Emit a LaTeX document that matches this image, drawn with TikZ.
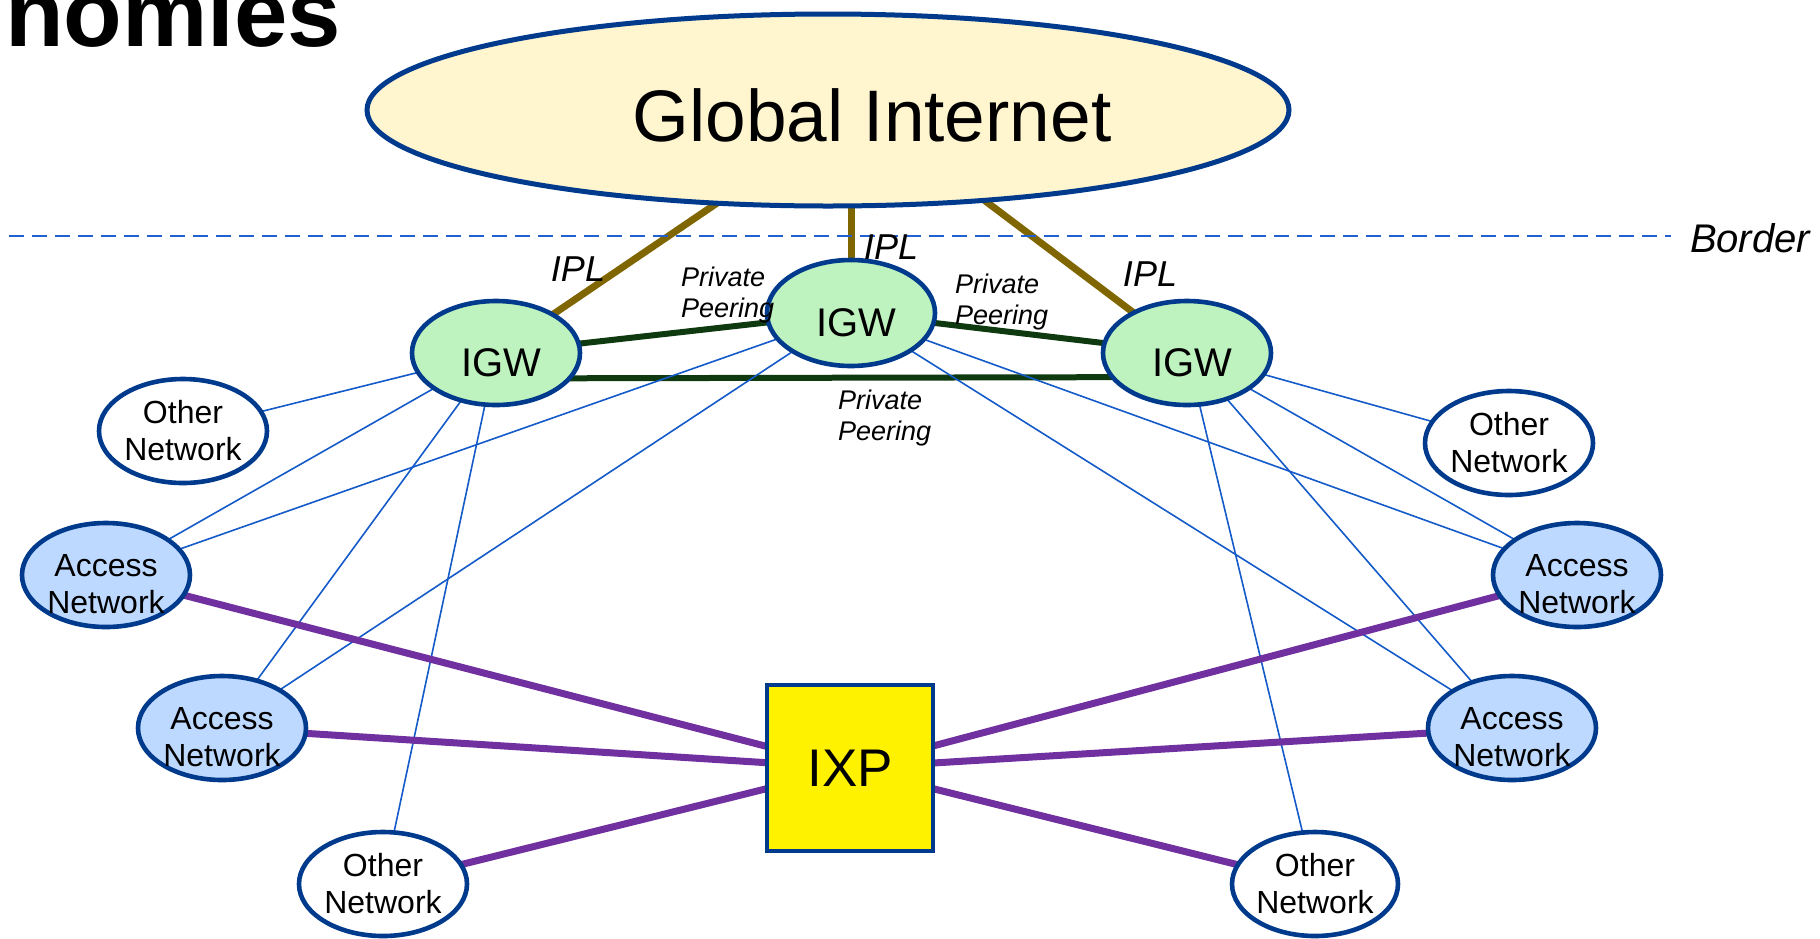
\documentclass[tikz,border=0pt]{standalone}
\usepackage{fontspec}
\setmainfont{Liberation Sans}
\usetikzlibrary{shapes.geometric,backgrounds}
\definecolor{nodeblue}{RGB}{0,58,140}
\definecolor{gifill}{RGB}{255,245,207}
\definecolor{igwfill}{RGB}{190,242,190}
\definecolor{anfill}{RGB}{189,217,255}
\definecolor{iplcol}{RGB}{128,102,0}
\definecolor{ppcol}{RGB}{15,58,15}
\definecolor{thinblue}{RGB}{20,90,200}
\definecolor{ixpcol}{RGB}{112,48,160}
\definecolor{bordercol}{RGB}{32,96,208}
\begin{document}
\begin{tikzpicture}[x=0.5pt,y=-0.5pt,
  every node/.style={inner sep=0pt,outer sep=0pt},
  netnode/.style={ellipse,draw=nodeblue,line width=2.3pt,minimum width=84pt,minimum height=52pt,align=center,font=\fontsize{16pt}{18.5pt}\selectfont},
  netlabel/.style={align=center,font=\fontsize{16pt}{18.5pt}\selectfont},
  othernet/.style={netnode,fill=white},
  accessnet/.style={netnode,fill=anfill,label={[netlabel,yshift=-4.5pt]center:{Access\\Network}}},
  igwnode/.style={netnode,fill=igwfill,label={[font=\fontsize{20pt}{24pt}\selectfont,xshift=2.5pt,yshift=-4.7pt]center:IGW}},
  ipl/.style={draw=iplcol,line width=3.5pt},
  pp/.style={draw=ppcol,line width=3pt},
  thin/.style={draw=thinblue,line width=0.8pt},
  ixpline/.style={draw=ixpcol,line width=3.5pt},
  ppl/.style={align=left,anchor=west,font=\fontsize{13.5pt}{15.5pt}\selectfont\itshape},
  ipllabel/.style={font=\fontsize{18pt}{20pt}\selectfont\itshape}
]
\useasboundingbox (0,0) rectangle (1820,938);
\clip (0,0) rectangle (1820,938);

\node[anchor=base west,font=\fontsize{48pt}{50pt}\selectfont\bfseries] (title) at (5,46) {nomies};

\node[ellipse,draw=nodeblue,line width=2.5pt,fill=gifill,minimum width=461pt,minimum height=96pt,
  label={[font=\fontsize{36.5pt}{40pt}\selectfont,xshift=22pt,yshift=-2.5pt]center:Global Internet}] (gi) at (828,110) {};

\coordinate (bl) at (9,236);
\coordinate (br) at (1671,236);
\draw[bordercol,line width=1.1pt,dash pattern=on 7.5pt off 4pt] (bl) -- (br);
\node[anchor=west,font=\fontsize{20pt}{24pt}\selectfont\itshape] (border) at (1690,238) {Border};

\node[igwnode] (igwL) at (496,353) {};
\node[igwnode,minimum height=53pt] (igwC) at (851,313) {};
\node[igwnode] (igwR) at (1187,353) {};

\node[othernet] (onUL) at (183,431) {Other\\Network};
\node[othernet] (onUR) at (1509,443) {Other\\Network};
\node[othernet] (onBL) at (383,884) {Other\\Network};
\node[othernet,minimum width=82pt] (onBR) at (1315,884) {Other\\Network};

\node[accessnet] (anL1) at (106,575) {};
\node[accessnet] (anL2) at (222,728) {};
\node[accessnet] (anR1) at (1577,575) {};
\node[accessnet] (anR2) at (1512,728) {};

\node[rectangle,draw=nodeblue,line width=2.3pt,fill=yellow,minimum width=83pt,minimum height=83pt,font=\fontsize{26.5pt}{30pt}\selectfont] (ixp) at (850,768) {IXP};

\node[ipllabel] (iplA) at (578,269) {IPL};
\node[ipllabel] (iplB) at (891,247) {IPL};
\node[ipllabel] (iplC) at (1150,274) {IPL};

\node[ppl] (ppA) at (681,295) {Private\\Peering};
\node[ppl] (ppB) at (955,302) {Private\\Peering};
\node[ppl] (ppC) at (838,418) {Private\\Peering};

\begin{pgfonlayer}{background}
  \draw[ipl] (gi.220) -- (igwL);
  \draw[ipl] (igwC.north) -- (igwC.north |- gi.south);
  \draw[ipl] (gi.330) -- (igwR);
  \draw[pp] (igwL) -- (igwC);
  \draw[pp] (igwC) -- (igwR);
  \draw[pp] (igwL.341.2) -- (igwR.198.8);
  \draw[thin] (igwL) -- (onUL);
  \draw[thin] (igwL) -- (anL1);
  \draw[thin] (igwL) -- (anL2);
  \draw[thin] (igwL) -- (onBL);
  \draw[thin] (igwC) -- (anL1);
  \draw[thin] (igwC) -- (anL2);
  \draw[thin] (igwC) -- (anR1);
  \draw[thin] (igwC) -- (anR2);
  \draw[thin] (igwR) -- (onUR);
  \draw[thin] (igwR) -- (anR1);
  \draw[thin] (igwR) -- (anR2);
  \draw[thin] (igwR) -- (onBR);
  \draw[ixpline] (anL1) -- (ixp);
  \draw[ixpline] (anL2) -- (ixp);
  \draw[ixpline] (onBL) -- (ixp);
  \draw[ixpline] (anR1) -- (ixp);
  \draw[ixpline] (anR2) -- (ixp);
  \draw[ixpline] (onBR) -- (ixp);
\end{pgfonlayer}
\end{tikzpicture}
\end{document}
